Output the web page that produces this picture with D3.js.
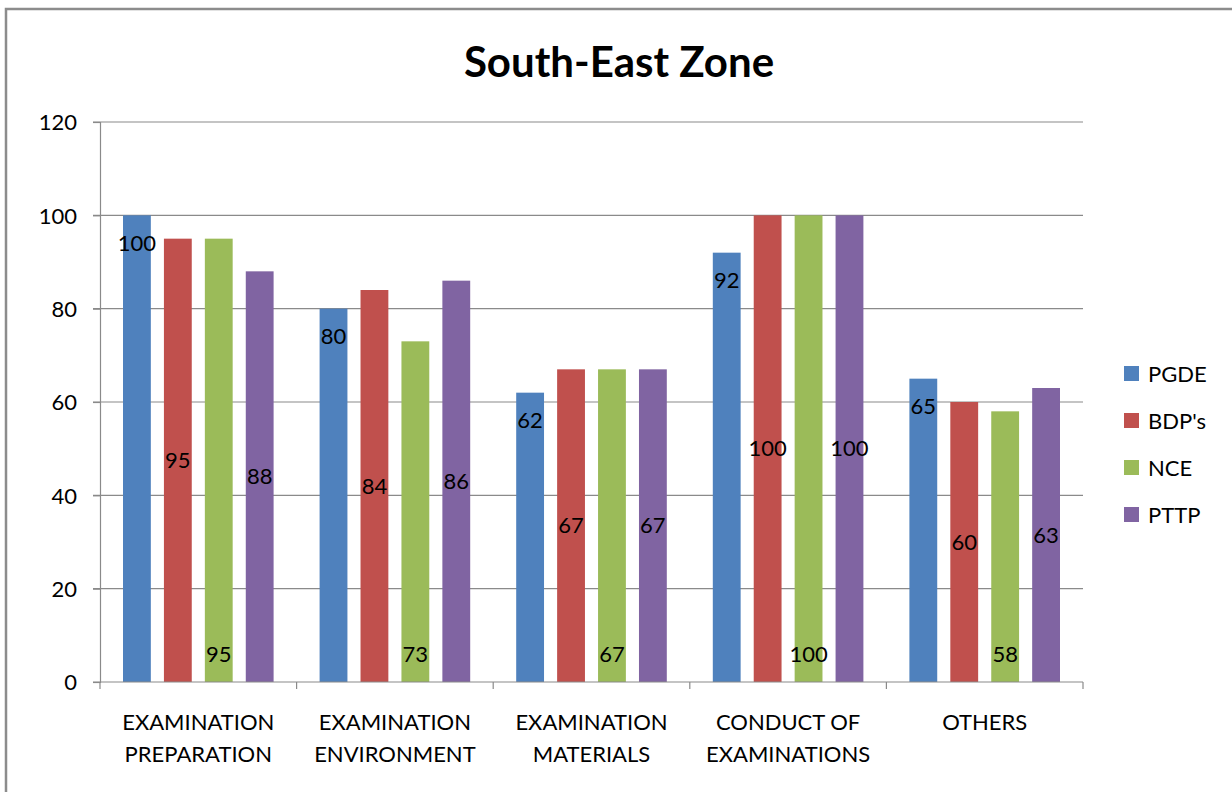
<!DOCTYPE html>
<html>
<head>
<meta charset="utf-8">
<script src="https://cdn.jsdelivr.net/npm/d3@7"></script>
<style>
  body { margin: 0; background: #fff; }
  text { font-family: Lato, "Open Sans", sans-serif; fill: #000; }
</style>
</head>
<body>
<svg></svg>
<script>
// data
var categories = [
  ["EXAMINATION", "PREPARATION"],
  ["EXAMINATION", "ENVIRONMENT"],
  ["EXAMINATION", "MATERIALS"],
  ["CONDUCT OF", "EXAMINATIONS"],
  ["OTHERS"]
]
var seriesNames = ["PGDE", "BDP's", "NCE", "PTTP"]
var colors = ["#4F81BD", "#C0504D", "#9BBB59", "#8064A2"]
var pgde = [100, 80, 62, 92, 65]
var bdps = [95, 84, 67, 100, 60]
var nce = [95, 73, 67, 100, 58]
var pttp = [88, 86, 67, 100, 63]
var yTicks = [0, 20, 40, 60, 80, 100, 120]

var seriesValues = [pgde, bdps, nce, pttp]
// label placement per series, like the original: inside end, center, inside base, center
var labelPos = ["end", "center", "base", "center"]

var screen = {width: 1232, height: 792}
var svg = d3.select("svg")
  .attr("width", screen.width)
  .attr("height", screen.height)

// outer chart frame (runs off the right and bottom edge)
svg.append("rect")
  .attr("x", 6).attr("y", 9)
  .attr("width", 1300).attr("height", 900)
  .attr("fill", "none")
  .attr("stroke", "#8c8c8c")
  .attr("stroke-width", 2.5)

svg.append("text")
  .attr("x", 619).attr("y", 77)
  .attr("text-anchor", "middle")
  .style("font-size", "42px")
  .style("font-weight", "bold")
  .text("South-East Zone")

var plot = {left: 100, right: 1083, top: 122, bottom: 682}

var y = d3.scaleLinear().domain([0, 120]).range([plot.bottom, plot.top])
var x0 = d3.scaleBand()
  .domain(d3.range(categories.length))
  .range([plot.left, plot.right])
  .paddingInner(0).paddingOuter(0)
var x1 = d3.scaleBand()
  .domain(d3.range(seriesNames.length))
  .range([23, x0.bandwidth() - 23])
  .paddingInner(0.32)

// gridlines
svg.append("g")
  .selectAll("line")
  .data(yTicks.filter(function(d){ return d > 0 }))
  .enter()
  .append("line")
  .attr("x1", plot.left - 7).attr("x2", plot.right)
  .attr("y1", function(d){ return y(d) }).attr("y2", function(d){ return y(d) })
  .attr("stroke", "#8a8a8a")
  .attr("stroke-width", 1.2)

// y axis
var yAxis = svg.append("g")
  .attr("transform", "translate(" + plot.left + ",0)")
  .call(d3.axisLeft(y).tickValues(yTicks).tickSize(7).tickPadding(16))
yAxis.select(".domain").attr("stroke", "#8a8a8a").attr("stroke-width", 1.2)
yAxis.selectAll(".tick line").attr("stroke", "#8a8a8a").attr("stroke-width", 1.2)
yAxis.selectAll(".tick text").style("font-size", "22px").attr("fill", "#000").attr("dy", "0.35em")

// bars
var groups = svg.append("g")
  .selectAll("g")
  .data(categories)
  .enter()
  .append("g")
  .attr("transform", function(d, i){ return "translate(" + x0(i) + ",0)" })

groups.selectAll("rect")
  .data(function(d, i){
    return seriesValues.map(function(s, j){ return {s: j, v: s[i]} })
  })
  .enter()
  .append("rect")
  .attr("x", function(d){ return x1(d.s) })
  .attr("width", x1.bandwidth())
  .attr("y", function(d){ return y(d.v) })
  .attr("height", function(d){ return y(0) - y(d.v) })
  .attr("fill", function(d){ return colors[d.s] })

groups.selectAll("text.lbl")
  .data(function(d, i){
    return seriesValues.map(function(s, j){ return {s: j, v: s[i]} })
  })
  .enter()
  .append("text")
  .attr("class", "lbl")
  .attr("x", function(d){ return x1(d.s) + x1.bandwidth() / 2 })
  .attr("y", function(d){
    var p = labelPos[d.s]
    if (p == "end") return y(d.v) + 28
    if (p == "base") return y(0) - 28
    return (y(d.v) + y(0)) / 2
  })
  .attr("dy", "0.35em")
  .attr("text-anchor", "middle")
  .style("font-size", "22px")
  .text(function(d){ return d.v })

// x axis
svg.append("line")
  .attr("x1", plot.left - 7).attr("x2", plot.right)
  .attr("y1", plot.bottom).attr("y2", plot.bottom)
  .attr("stroke", "#8a8a8a").attr("stroke-width", 1.2)
svg.append("g")
  .selectAll("line")
  .data(d3.range(categories.length + 1))
  .enter()
  .append("line")
  .attr("x1", function(d){ return plot.left + d * x0.bandwidth() })
  .attr("x2", function(d){ return plot.left + d * x0.bandwidth() })
  .attr("y1", plot.bottom).attr("y2", plot.bottom + 7)
  .attr("stroke", "#8a8a8a").attr("stroke-width", 1.2)

groups.append("text")
  .attr("x", x0.bandwidth() / 2)
  .attr("y", 730)
  .attr("text-anchor", "middle")
  .style("font-size", "22px")
  .selectAll("tspan")
  .data(function(d){ return d })
  .enter()
  .append("tspan")
  .attr("x", x0.bandwidth() / 2)
  .attr("dy", function(d, i){ return i == 0 ? 0 : 32 })
  .text(function(d){ return d })

// legend
var legend = svg.append("g")
  .selectAll("g")
  .data(seriesNames)
  .enter()
  .append("g")
  .attr("transform", function(d, i){ return "translate(1124," + (374 + i * 47) + ")" })
legend.append("rect")
  .attr("x", 0).attr("y", -8)
  .attr("width", 15).attr("height", 15)
  .attr("fill", function(d, i){ return colors[i] })
legend.append("text")
  .attr("x", 24).attr("y", 0)
  .attr("dy", "0.35em")
  .style("font-size", "22px")
  .text(function(d){ return d })
</script>
</body>
</html>
